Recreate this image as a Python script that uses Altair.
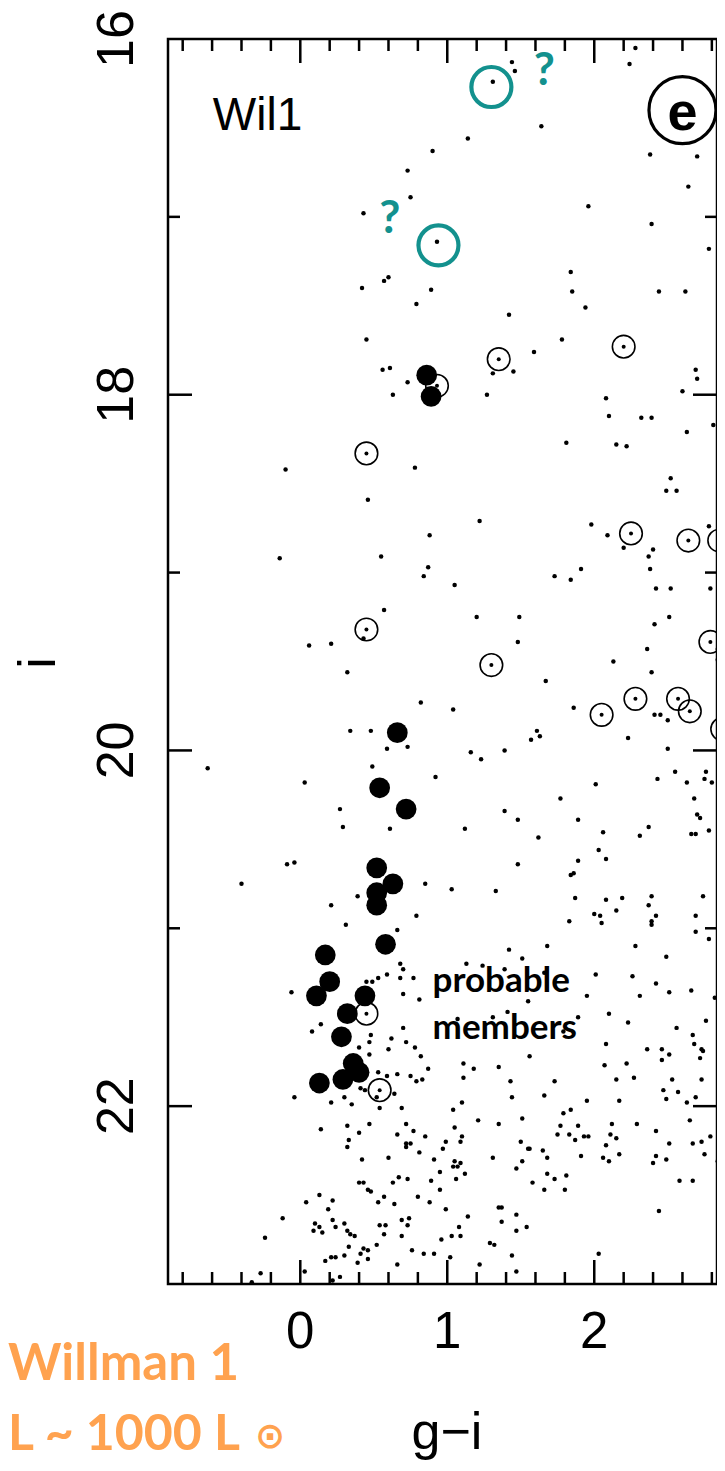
import altair as alt
import pandas as pd

# ---------------- data ----------------
# probable members (big filled dots)
member_gi = [0.86, 0.89, 0.66, 0.54, 0.72, 0.52, 0.63, 0.52, 0.52, 0.58, 0.17, 0.20,
             0.11, 0.44, 0.32, 0.28, 0.36, 0.40, 0.29, 0.13]
member_i = [17.89, 18.01, 19.90, 20.21, 20.33, 20.66, 20.75, 20.80, 20.87, 21.09, 21.15, 21.30,
            21.38, 21.38, 21.48, 21.61, 21.76, 21.81, 21.85, 21.87]

# open circles (with a star in the centre)
ring_gi = [1.35, 2.20, 0.93, 0.45, 0.45, 2.25, 2.64, 2.85, 2.79, 1.30, 2.28, 2.57, 2.65,
           2.05, 2.87, 0.45, 0.54]
ring_i = [17.80, 17.73, 17.95, 18.33, 19.32, 18.78, 18.82, 18.82, 19.39, 19.52, 19.71, 19.71,
          19.78, 19.80, 19.88, 21.48, 21.91]

# questionable (teal) circles and their question marks
query_gi = [1.30, 0.94]
query_i = [16.27, 17.16]
qmark_gi = [1.66, 0.61]
qmark_i = [16.26, 17.09]

# field stars (small dots)
field_pts = [
    # upper part
    (1.44, 16.13), (1.46, 16.18), (1.31, 16.24), (2.24, 16.14), (2.28, 16.05), (1.64, 16.49),
    (1.14, 16.56), (0.90, 16.63), (2.38, 16.65), (2.70, 16.66), (0.73, 16.74), (2.64, 16.83),
    (0.75, 16.89), (0.43, 16.98), (1.96, 16.94), (0.93, 17.14), (2.39, 17.04), (2.78, 17.18),
    (0.60, 17.34), (0.57, 17.36), (0.42, 17.40), (0.89, 17.41), (1.84, 17.31), (1.85, 17.42),
    (2.44, 17.42), (2.62, 17.42), (0.79, 17.49), (1.94, 17.51), (1.42, 17.55), (0.45, 17.69),
    (1.78, 17.69), (1.59, 17.76), (0.56, 17.86), (0.61, 17.85), (0.73, 17.93), (0.63, 18.00),
    (1.31, 17.88), (1.45, 17.87), (1.27, 18.00), (2.69, 17.86), (2.70, 17.91), (2.60, 17.98),
    (2.08, 18.02), (2.10, 18.12), (2.32, 18.13), (2.39, 18.13), (2.63, 18.21), (2.81, 18.17),
    (1.81, 18.27), (2.15, 18.28), (2.22, 18.29),
    # left middle
    (-0.10, 18.42), (0.78, 18.41), (0.46, 18.59), (0.88, 18.79), (-0.14, 18.92), (0.55, 18.91),
    (0.87, 18.97), (0.84, 19.02), (0.57, 19.21), (0.43, 19.37), (0.06, 19.41), (0.21, 19.40),
    (0.32, 19.56), (0.82, 19.73),
    # right middle
    (2.52, 18.47), (2.49, 18.54), (2.56, 18.54), (1.22, 18.71), (1.98, 18.73), (2.09, 18.79),
    (2.20, 18.86), (2.40, 18.87), (2.37, 18.91), (2.78, 18.74), (2.38, 18.98), (1.73, 19.02),
    (1.84, 19.04), (1.91, 18.98), (1.05, 19.07), (2.42, 19.09), (2.52, 19.09), (2.79, 19.09),
    (1.20, 19.25), (1.49, 19.25), (2.51, 19.25), (2.41, 19.29), (1.48, 19.39), (2.36, 19.43),
    (2.13, 19.50), (2.84, 19.43), (2.84, 19.49), (2.39, 19.56), (1.67, 19.61), (1.04, 19.77),
    (1.86, 19.76), (2.41, 19.80), (2.45, 19.80), (2.50, 19.83), (2.23, 19.93), (1.61, 19.89),
    (1.57, 19.94), (1.63, 19.92), (1.16, 20.01), (1.23, 20.05), (1.39, 20.00), (2.50, 19.99),
    (2.87, 20.08), (2.01, 20.19), (2.43, 20.16), (2.55, 20.12), (2.76, 20.12), (2.75, 20.16),
    (2.63, 20.18), (2.80, 20.18), (1.77, 20.27), (2.68, 20.27), (1.39, 20.34), (1.48, 20.39),
    (1.89, 20.39), (1.12, 20.44), (2.70, 20.36), (2.72, 20.38), (2.37, 20.43), (2.31, 20.48),
    (2.66, 20.47), (2.69, 20.47), (2.78, 20.45), (2.06, 20.46), (1.62, 20.49), (2.03, 20.56),
    (2.08, 20.61), (1.89, 20.62), (1.48, 20.64), (1.84, 20.70), (1.86, 20.69), (2.87, 20.70),
    (1.03, 20.78), (1.33, 20.79), (1.87, 20.83), (2.08, 20.84), (2.19, 20.83), (2.39, 20.82),
    (2.74, 20.82),
    # main sequence area
    (0.34, 19.89), (0.48, 19.89), (0.59, 19.99), (0.73, 19.98), (-0.63, 20.10), (0.03, 20.18),
    (0.49, 20.09), (0.92, 20.15), (0.27, 20.33), (0.29, 20.43), (0.61, 20.44), (-0.09, 20.64),
    (-0.04, 20.63), (-0.40, 20.75), (0.85, 20.75), (0.39, 20.82), (0.21, 20.87), (0.79, 20.93),
    (0.31, 20.98), (0.66, 21.01), (0.68, 21.20), (0.70, 21.23), (0.59, 21.26), (0.53, 21.28),
    (0.49, 21.30), (0.45, 21.30), (0.68, 21.28), (0.77, 21.28), (-0.06, 21.36), (0.70, 21.37),
    (0.81, 21.40), (0.14, 21.54), (0.08, 21.58), (0.70, 21.56), (0.48, 21.60), (0.47, 21.64),
    (0.62, 21.62), (0.72, 21.64), (0.40, 21.67), (0.60, 21.68), (0.78, 21.67), (0.47, 21.71),
    (0.82, 21.72), (0.87, 21.79), (0.53, 21.81), (0.59, 21.83), (0.66, 21.82), (0.75, 21.83),
    (0.83, 21.85), (0.79, 21.86), (-0.04, 21.95), (0.21, 21.98), (0.30, 21.95), (0.35, 21.99),
    (0.41, 21.90), (0.44, 21.91), (0.52, 21.95), (0.54, 22.01), (0.64, 21.93), (0.69, 22.01),
    (1.04, 22.02), (1.10, 21.98),
    # bottom left
    (0.14, 22.13), (0.32, 22.11), (0.47, 22.10), (0.40, 22.15), (0.33, 22.19), (0.32, 22.23),
    (0.66, 22.16), (0.72, 22.10), (0.77, 22.14), (0.85, 22.17), (0.72, 22.21), (0.75, 22.21),
    (0.72, 22.23), (0.81, 22.26), (0.99, 22.20), (0.97, 22.24), (0.42, 22.30), (0.60, 22.29),
    (0.91, 22.30), (0.95, 22.37), (0.67, 22.40), (0.63, 22.43), (0.73, 22.41), (0.89, 22.42),
    (0.40, 22.43), (0.43, 22.43), (0.95, 22.47), (0.46, 22.47), (0.48, 22.48), (0.13, 22.50),
    (0.57, 22.51), (0.53, 22.54), (0.22, 22.53), (0.04, 22.54), (0.64, 22.55), (0.80, 22.51),
    (0.88, 22.54), (0.99, 22.58), (0.19, 22.58), (-0.12, 22.63), (0.22, 22.64), (0.10, 22.66),
    (0.13, 22.68), (0.30, 22.66), (0.24, 22.68), (0.09, 22.70), (0.15, 22.71), (0.32, 22.70),
    (0.37, 22.73), (0.34, 22.72), (0.54, 22.67), (0.58, 22.67), (0.69, 22.64), (0.74, 22.63),
    (0.73, 22.67), (0.57, 22.72), (0.69, 22.73), (0.96, 22.75), (-0.24, 22.74), (0.33, 22.79),
    (0.52, 22.78), (0.43, 22.80), (0.46, 22.81), (0.41, 22.83), (0.46, 22.86), (0.30, 22.84),
    (0.24, 22.85), (0.21, 22.85), (0.17, 22.87), (0.76, 22.81), (0.84, 22.83), (0.91, 22.83),
    (0.39, 22.88), (0.66, 22.89), (-0.27, 22.94), (0.03, 22.93), (0.22, 22.98), (0.27, 22.96),
    (-0.33, 22.99), (1.05, 22.31), (1.04, 22.34), (1.07, 22.34), (1.09, 22.32), (1.05, 22.12),
    (1.21, 22.08), (1.10, 22.17), (1.09, 22.20), (1.12, 22.38), (1.06, 22.41), (1.14, 22.62),
    (1.08, 22.68), (1.03, 22.73), (1.09, 22.73), (1.02, 22.85), (1.22, 22.89),
    # bottom right
    (1.35, 22.10), (1.51, 22.07), (1.31, 22.29), (1.50, 22.20), (1.55, 22.24), (1.56, 22.24),
    (1.51, 22.31), (1.47, 22.35), (1.65, 22.25), (1.68, 22.29), (1.58, 22.43), (1.68, 22.38),
    (1.73, 22.41), (1.81, 22.39), (1.66, 22.47), (1.80, 22.47), (1.79, 22.04), (1.84, 22.02),
    (1.77, 22.11), (1.89, 22.11), (1.75, 22.16), (1.83, 22.16), (1.87, 22.19), (1.93, 22.17),
    (1.96, 22.17), (1.91, 22.28), (2.12, 22.10), (2.11, 22.16), (2.15, 22.18), (2.08, 22.22),
    (2.17, 22.27), (2.06, 22.29), (2.10, 22.31), (2.29, 22.10), (2.42, 22.14), (2.51, 22.21),
    (2.42, 22.28), (2.40, 22.32), (2.49, 22.30), (2.65, 22.08), (2.67, 22.21), (2.73, 22.20),
    (2.79, 22.17), (2.75, 22.27), (2.84, 22.31), (2.58, 22.42), (2.67, 22.42), (2.44, 22.59),
    (1.35, 22.57), (1.37, 22.57), (1.47, 22.61), (1.37, 22.65), (1.54, 22.68), (1.47, 22.70),
    (1.29, 22.77), (1.32, 22.78), (1.44, 22.84), (1.47, 22.93), (2.03, 22.83),
    # lower right middle
    (2.37, 20.87), (2.00, 20.92), (2.04, 20.93), (2.05, 20.97), (2.15, 20.90), (2.42, 20.93),
    (2.39, 20.96), (2.39, 20.98), (1.83, 20.96), (2.69, 20.93), (2.69, 21.02), (2.78, 21.06),
    (1.42, 21.12), (1.68, 21.10), (1.51, 21.17), (2.28, 21.10), (2.49, 21.16), (1.13, 21.20),
    (1.24, 21.21), (1.39, 21.23), (1.66, 21.25), (2.01, 21.26), (2.26, 21.27), (2.42, 21.31),
    (1.95, 21.38), (1.55, 21.41), (2.31, 21.38), (2.51, 21.36), (2.66, 21.35), (2.82, 21.39),
    (1.07, 21.51), (1.31, 21.50), (1.41, 21.47), (1.89, 21.50), (2.10, 21.48), (2.23, 21.53),
    (2.76, 21.52), (2.56, 21.56), (1.79, 21.58), (2.08, 21.65), (2.36, 21.68), (2.46, 21.68),
    (2.51, 21.71), (2.46, 21.74), (2.67, 21.60), (2.68, 21.65), (2.73, 21.68), (2.74, 21.69),
    (1.56, 21.72), (1.11, 21.76), (1.18, 21.79), (1.35, 21.78), (2.07, 21.77), (2.22, 21.76),
    (2.72, 21.73), (1.11, 21.84), (1.43, 21.86), (1.73, 21.86), (2.15, 21.85), (2.27, 21.84),
    (2.53, 21.85), (2.73, 21.85), (1.44, 21.95), (1.66, 21.94), (1.95, 21.97), (2.17, 21.97),
    (2.47, 21.91), (2.49, 21.96), (2.57, 21.92), (2.63, 21.98), (2.69, 21.95),
]
field_gi = [p[0] for p in field_pts]
field_i = [p[1] for p in field_pts]

# tick positions / labels
x_labels = [0, 1, 2]
x_minor = [-0.8, -0.6, -0.4, -0.2, 0.2, 0.4, 0.6, 0.8, 1.2, 1.4, 1.6, 1.8, 2.2, 2.4, 2.6, 2.8]
y_labels = [16, 18, 20, 22]
y_major = [18, 20, 22]
y_minor = [17, 19, 21]

# ---------------- chart ----------------
W, H = 549, 1245
TEAL = "#13918E"
ORANGE = "#FFA24F"
xs = alt.Scale(domain=[-0.9, 2.835], nice=False, zero=False)
ys = alt.Scale(domain=[16, 23], nice=False, zero=False, reverse=True)

field_df = pd.DataFrame({"gi": field_gi, "i": field_i})
member_df = pd.DataFrame({"gi": member_gi, "i": member_i})
ring_df = pd.DataFrame({"gi": ring_gi, "i": ring_i})
query_df = pd.DataFrame({"gi": query_gi, "i": query_i})
qmark_df = pd.DataFrame({"gi": qmark_gi, "i": qmark_i, "t": ["?", "?"]})


def X(f="gi"):
    return alt.X(f"{f}:Q", scale=xs, axis=None)


def Y(f="i"):
    return alt.Y(f"{f}:Q", scale=ys, axis=None)


field = alt.Chart(field_df).mark_circle(size=20, color="black", opacity=1).encode(x=X(), y=Y())
rings = alt.Chart(ring_df).mark_point(shape="circle", size=510, filled=False,
                                      stroke="black", strokeWidth=1.6, opacity=1).encode(x=X(), y=Y())
ring_dots = alt.Chart(ring_df).mark_circle(size=16, color="black", opacity=1).encode(x=X(), y=Y())
members = alt.Chart(member_df).mark_circle(size=430, color="black", opacity=1).encode(x=X(), y=Y())
queries = alt.Chart(query_df).mark_point(shape="circle", size=1600, filled=False,
                                         stroke=TEAL, strokeWidth=4.2, opacity=1).encode(x=X(), y=Y())
qmarks = alt.Chart(qmark_df).mark_text(font="Lato", fontWeight="bold", fontSize=46,
                                       color=TEAL, align="center", baseline="alphabetic").encode(
    x=X(), y=Y(), text="t:N")

# panel label and letter
wil_df = pd.DataFrame({"gi": [-0.595], "i": [16.51], "t": ["Wil1"]})
wil = alt.Chart(wil_df).mark_text(font="Liberation Sans", fontSize=46, color="black",
                                  align="left", baseline="alphabetic").encode(x=X(), y=Y(), text="t:N")

e_df = pd.DataFrame({"gi": [2.60], "i": [16.40], "ib": [16.51], "t": ["e"]})
e_ring = alt.Chart(e_df).mark_point(shape="circle", size=4489, filled=False,
                                    stroke="black", strokeWidth=3.2, opacity=1).encode(x=X(), y=Y())
e_txt = alt.Chart(e_df).mark_text(font="Liberation Sans", fontWeight="bold", fontSize=54,
                                  color="black", align="center", baseline="alphabetic").encode(
    x=X(), y=Y("ib"), text="t:N")

pm_df = pd.DataFrame({"gi": [0.90, 0.90], "i": [21.36, 21.62], "t": ["probable", "members"]})
pm = alt.Chart(pm_df).mark_text(font="Lato", fontWeight="bold", fontSize=35, color="black",
                                align="left", baseline="alphabetic").encode(x=X(), y=Y(), text="t:N")


# tick marks (inward, on all four sides)
def xticks(vals, length):
    df = pd.DataFrame({"v": vals})
    bot = alt.Chart(df).mark_rule(color="black", strokeWidth=2.5).encode(
        x=X("v"), y=alt.value(H), y2=alt.value(H - length))
    top = alt.Chart(df).mark_rule(color="black", strokeWidth=2.5).encode(
        x=X("v"), y=alt.value(0), y2=alt.value(length))
    return [bot, top]


def yticks(vals, length):
    df = pd.DataFrame({"v": vals})
    left = alt.Chart(df).mark_rule(color="black", strokeWidth=2.5).encode(
        y=Y("v"), x=alt.value(0), x2=alt.value(length))
    right = alt.Chart(df).mark_rule(color="black", strokeWidth=2.5).encode(
        y=Y("v"), x=alt.value(W), x2=alt.value(W - length))
    return [left, right]


ticks = xticks(x_labels, 24) + xticks(x_minor, 12) + yticks(y_major, 24) + yticks(y_minor, 12)

# tick labels and axis titles
xl_df = pd.DataFrame({"v": x_labels, "t": [str(v) for v in x_labels]})
x_lab = alt.Chart(xl_df).mark_text(font="Liberation Sans", fontSize=51, color="black",
                                   align="center", baseline="alphabetic").encode(
    x=X("v"), y=alt.value(1309), text="t:N")
yl_df = pd.DataFrame({"v": y_labels, "t": [str(v) for v in y_labels]})
y_lab = alt.Chart(yl_df).mark_text(font="Liberation Sans", fontSize=52, color="black", angle=270,
                                   align="center", baseline="alphabetic").encode(
    y=Y("v"), x=alt.value(-35), text="t:N")
xt_df = pd.DataFrame({"t": ["g\u2212i"]})
x_title = alt.Chart(xt_df).mark_text(font="Liberation Sans", fontSize=52, color="black",
                                     align="center", baseline="alphabetic").encode(
    x=alt.value(279), y=alt.value(1410), text="t:N")
yt_df = pd.DataFrame({"t": ["i"]})
y_title = alt.Chart(yt_df).mark_text(font="Liberation Sans", fontSize=52, color="black", angle=270,
                                     align="center", baseline="alphabetic").encode(
    x=alt.value(-113), y=alt.value(624), text="t:N")

# orange annotation below the panel
name_df = pd.DataFrame({"t": ["Willman 1"]})
name = alt.Chart(name_df).mark_text(font="Lato", fontWeight="bold", fontSize=51, color=ORANGE,
                                    align="left", baseline="alphabetic").encode(
    x=alt.value(-160), y=alt.value(1341), text="t:N")
lum_df = pd.DataFrame({"t": ["L ~ 1000 L"]})
lum = alt.Chart(lum_df).mark_text(font="Lato", fontWeight="bold", fontSize=50, color=ORANGE,
                                  align="left", baseline="alphabetic").encode(
    x=alt.value(-160), y=alt.value(1411), text="t:N")
sun_df = pd.DataFrame({"t": ["\u2299"]})
sun = alt.Chart(sun_df).mark_text(font="DejaVu Sans", fontWeight="bold", fontSize=36,
                                  color=ORANGE, align="center", baseline="middle").encode(
    x=alt.value(102), y=alt.value(1398), text="t:N")

chart = alt.layer(
    field, *ticks, rings, ring_dots, members, queries, qmarks, wil, e_ring, e_txt, pm,
    x_lab, y_lab, x_title, y_title, name, lum, sun
).properties(
    width=W, height=H,
    padding={"left": 160, "top": 31, "right": 0, "bottom": 178},
    autosize=alt.AutoSizeParams(type="none"),
    background="white",
).configure_view(stroke="black", strokeWidth=2.5)

chart.save("out.html", embed_options={"renderer": "svg", "actions": False})
